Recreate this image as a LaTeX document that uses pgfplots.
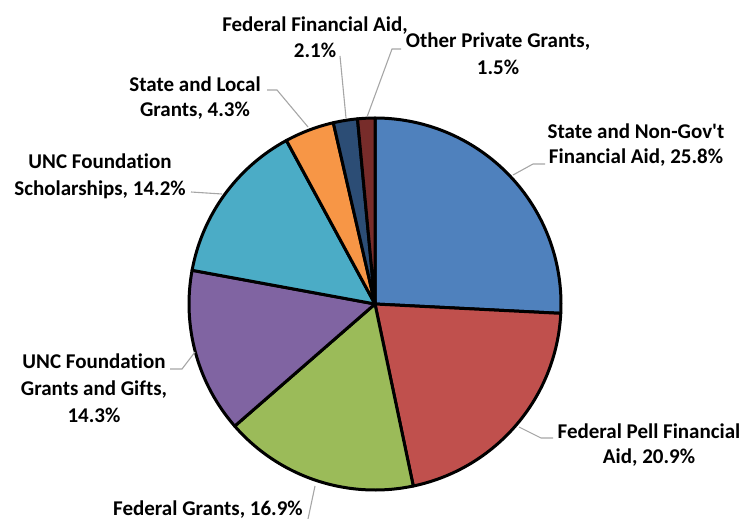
\documentclass[border=0pt]{standalone}
\usepackage{pgfplots}
\pgfplotsset{compat=1.18}
\usepackage{fontspec}
\setmainfont{Carlito}[Ligatures={NoCommon}]

\definecolor{s1}{HTML}{4F81BD}
\definecolor{s2}{HTML}{C0504D}
\definecolor{s3}{HTML}{9BBB59}
\definecolor{s4}{HTML}{8064A2}
\definecolor{s5}{HTML}{4BACC6}
\definecolor{s6}{HTML}{F79646}
\definecolor{s7}{HTML}{2C4D75}
\definecolor{s8}{HTML}{772C2A}
\definecolor{leader}{HTML}{A6A6A6}

\begin{document}
\begin{tikzpicture}
\begin{axis}[
    scale only axis,
    width=745bp, height=519bp,
    xmin=0, xmax=745, ymin=0, ymax=519,
    y dir=reverse,
    hide axis, clip=false,
  ]
  % pie centre and radius in axis units (1 unit = 1bp)
  \def\cx{375}\def\cy{304}\def\R{186}
  \xdef\startA{90}
  % share of each slice, clockwise from 12 o'clock
  \foreach \v/\c in {25.8/s1, 20.9/s2, 16.9/s3, 14.3/s4, 14.2/s5, 4.3/s6, 2.1/s7, 1.5/s8}{
    \pgfmathsetmacro{\endA}{\startA-3.6*\v}
    \edef\temp{\noexpand\filldraw[fill=\c, draw=black, line width=3bp, line join=round]
      (axis cs:\cx,\cy) -- ++(\startA:\R bp)
      arc[start angle=\startA, end angle=\endA, radius=\R bp] -- cycle;}
    \temp
    \xdef\startA{\endA}
  }

  % leader lines
  \begin{scope}[leader, line width=1.1bp]
    \draw (axis cs:545,164) -- (axis cs:533,164) -- (axis cs:513,175);
    \draw (axis cs:553,438) -- (axis cs:541,438) -- (axis cs:519,427);
    \draw (axis cs:308,519) -- (axis cs:315,486);
    \draw (axis cs:170,369) -- (axis cs:182,369) -- (axis cs:195,352);
    \draw (axis cs:191,192) -- (axis cs:222,194);
    \draw (axis cs:267,90) -- (axis cs:277,90) -- (axis cs:308,127);
    \draw (axis cs:340,56) -- (axis cs:346,118);
    \draw (axis cs:401,49) -- (axis cs:392,49) -- (axis cs:367,117);
  \end{scope}

  % labels
  \begin{scope}[every node/.style={anchor=base, inner sep=0pt,
      font=\fontsize{21bp}{26bp}\selectfont\bfseries}]
    \node at (axis cs:636,138) {State and Non-Gov\textquotesingle t};
    \node at (axis cs:636,163) {Financial Aid, 25.8\%};
    \node at (axis cs:649,438) {Federal Pell Financial};
    \node at (axis cs:649,463) {Aid, 20.9\%};
    \node at (axis cs:208,515) {Federal Grants, 16.9\%};
    \node at (axis cs:94,368) {UNC Foundation};
    \node at (axis cs:94,395) {Grants and Gifts,};
    \node at (axis cs:94,422) {14.3\%};
    \node at (axis cs:100,168) {UNC Foundation};
    \node at (axis cs:100,195) {Scholarships, 14.2\%};
    \node at (axis cs:195,92) {State and Local};
    \node at (axis cs:195,117) {Grants, 4.3\%};
    \node at (axis cs:315,32) {Federal Financial Aid,};
    \node at (axis cs:315,58) {2.1\%};
    \node at (axis cs:498,48) {Other Private Grants,};
    \node at (axis cs:498,75) {1.5\%};
  \end{scope}
\end{axis}
\pgfresetboundingbox
\path (current axis.south west) rectangle (current axis.north east);
\end{tikzpicture}
\end{document}
